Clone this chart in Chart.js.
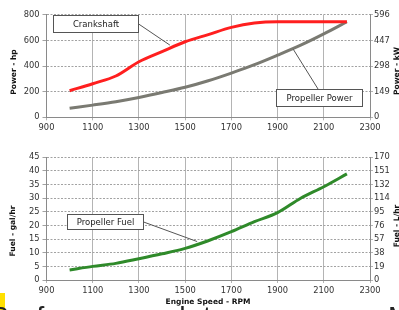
<!DOCTYPE html>
<html lang="en">
<head>
    <meta charset="UTF-8">
    <title>Engine Power and Fuel</title>
    <script src="https://cdn.jsdelivr.net/npm/chart.js@4"></script>
    <style>
        html, body { margin: 0; padding: 0; background: #fff; overflow: hidden; }
        body { width: 399px; height: 310px; position: relative; }
        #powerChart { position: absolute; left: 0; top: 0; }
        #fuelChart { position: absolute; left: 0; top: 140px; }
        .mark { position: absolute; left: 0; top: 293px; width: 5px; height: 17px; background: #ffe000; }
        .page-text { position: absolute; top: 303px; font-family: "Liberation Sans", sans-serif; font-size: 28px; line-height: 28px; letter-spacing: 1px; color: #222; white-space: nowrap; }
    </style>
</head>
<body>
    <canvas id="powerChart" width="399" height="140"></canvas>
    <canvas id="fuelChart" width="399" height="170"></canvas>
    <div class="mark"></div>
    <div class="page-text" style="left:-10px">Performance data</div>
    <div class="page-text" style="left:388px">M</div>

    <script>
        // engine speed, rpm
        const rpm = [1000, 1100, 1200, 1300, 1400, 1500, 1600, 1700, 1800, 1900, 2000, 2100, 2200];
        // power, hp
        const crankshaftHp = [207, 262, 322, 433, 512, 589, 645, 701, 735, 745, 745, 745, 745];
        const propellerHp = [70, 95, 122, 155, 193, 234, 285, 345, 410, 484, 562, 650, 745];
        // fuel, gal/hr
        const propellerFuel = [3.7, 5.0, 6.1, 7.8, 9.6, 11.6, 14.4, 17.7, 21.4, 24.7, 30.0, 34.2, 38.9];

        // secondary axis labels (kW and L/hr)
        const kwLabels = ['0', '149', '298', '447', '596'];
        const literLabels = ['0', '19', '38', '57', '76', '95', '114', '132', '151', '170'];

        const FONT = 'DejaVu Sans';
        const tickFont = { family: FONT, size: 8.3 };
        const gridColor = '#b4b4b4';
        const dashColor = '#a2a2a2';
        const axisColor = '#8a8a8a';

        function points(values) {
            return rpm.map((r, i) => ({ x: r, y: values[i] }));
        }

        function scales(yMax, yStep, rightLabels, xHeight) {
            return {
                x: {
                    type: 'linear', min: 900, max: 2300,
                    ticks: { stepSize: 200, font: tickFont, color: '#333', padding: 3, maxRotation: 0, autoSkip: false, callback: v => String(v) },
                    grid: { color: gridColor, tickLength: 3 },
                    border: { color: axisColor },
                    afterFit: s => { s.height = xHeight; }
                },
                y: {
                    position: 'left', min: 0, max: yMax,
                    ticks: { stepSize: yStep, font: tickFont, color: '#333', padding: 3, callback: v => String(v) },
                    grid: { color: dashColor, tickLength: 4 },
                    border: { color: axisColor, dash: [2, 1.5] },
                    afterFit: s => { s.width = 46.5; }
                },
                y2: {
                    position: 'right', min: 0, max: yMax,
                    ticks: { stepSize: yStep, font: tickFont, color: '#333', padding: 1, callback: (v, i) => rightLabels[i] },
                    grid: { drawOnChartArea: false, color: gridColor, tickLength: 3 },
                    border: { color: axisColor },
                    afterFit: s => { s.width = 29; }
                }
            };
        }

        // callout boxes and axis titles
        function extrasPlugin(notes, titles) {
            return {
                id: 'extras',
                afterDatasetsDraw(chart) {
                    const { ctx, scales: { x, y } } = chart;
                    ctx.save();
                    ctx.lineWidth = 1;
                    ctx.strokeStyle = '#555';
                    notes.forEach(n => {
                        ctx.beginPath();
                        ctx.moveTo(x.getPixelForValue(n.from[0]), y.getPixelForValue(n.from[1]));
                        ctx.lineTo(x.getPixelForValue(n.tip[0]), y.getPixelForValue(n.tip[1]));
                        ctx.stroke();

                        const x0 = Math.round(x.getPixelForValue(n.box[0])) + 0.5;
                        const y0 = Math.round(y.getPixelForValue(n.box[1])) + 0.5;
                        const x1 = Math.round(x.getPixelForValue(n.box[2])) + 0.5;
                        const y1 = Math.round(y.getPixelForValue(n.box[3])) + 0.5;
                        ctx.fillStyle = '#fff';
                        ctx.fillRect(x0, y0, x1 - x0, y1 - y0);
                        ctx.strokeRect(x0, y0, x1 - x0, y1 - y0);

                        ctx.fillStyle = '#222';
                        ctx.font = '8.5px "' + FONT + '"';
                        ctx.textAlign = 'center';
                        ctx.textBaseline = 'middle';
                        ctx.fillText(n.text, (x0 + x1) / 2, (y0 + y1) / 2 + 0.5);
                    });
                    ctx.restore();
                },
                afterDraw(chart) {
                    const ctx = chart.ctx;
                    ctx.save();
                    ctx.fillStyle = '#111';
                    ctx.font = 'bold 7.5px "' + FONT + '"';
                    ctx.textAlign = 'center';
                    ctx.textBaseline = 'middle';
                    titles.forEach(t => {
                        ctx.save();
                        ctx.translate(t.cx, t.cy);
                        if (t.vertical) ctx.rotate(-Math.PI / 2);
                        ctx.fillText(t.text, 0, 0);
                        ctx.restore();
                    });
                    ctx.restore();
                }
            };
        }

        const lineStyle = { borderWidth: 3, pointRadius: 0, cubicInterpolationMode: 'monotone', fill: false };

        new Chart(document.getElementById('powerChart'), {
            type: 'line',
            data: {
                datasets: [
                    { label: 'Crankshaft', data: points(crankshaftHp), borderColor: '#ff1f1f', ...lineStyle },
                    { label: 'Propeller Power', data: points(propellerHp), borderColor: '#7a7a72', ...lineStyle }
                ]
            },
            options: {
                responsive: false,
                animation: false,
                devicePixelRatio: 1,
                layout: { padding: { top: 14.7, bottom: 0, left: 0, right: 0 } },
                plugins: { legend: { display: false }, tooltip: { enabled: false } },
                scales: scales(800, 200, kwLabels, 22.7)
            },
            plugins: [extrasPlugin(
                [
                    { text: 'Crankshaft', box: [927, 798, 1295, 667], from: [1295, 732], tip: [1434, 563] },
                    { text: 'Propeller Power', box: [1893, 218, 2267, 88], from: [2076, 218], tip: [1968, 530] }
                ],
                [
                    { text: 'Power - hp', cx: 14.5, cy: 72, vertical: true },
                    { text: 'Power - kW', cx: 397.5, cy: 71, vertical: true }
                ]
            )]
        });

        new Chart(document.getElementById('fuelChart'), {
            type: 'line',
            data: {
                datasets: [
                    { label: 'Propeller Fuel', data: points(propellerFuel), borderColor: '#2f8a2a', ...lineStyle }
                ]
            },
            options: {
                responsive: false,
                animation: false,
                devicePixelRatio: 1,
                layout: { padding: { top: 17.3, bottom: 0, left: 0, right: 0 } },
                plugins: { legend: { display: false }, tooltip: { enabled: false } },
                scales: scales(45, 5, literLabels, 30)
            },
            plugins: [extrasPlugin(
                [
                    { text: 'Propeller Fuel', box: [987, 24.2, 1316, 18.6], from: [1316, 21.4], tip: [1552, 14.1] }
                ],
                [
                    { text: 'Fuel - gal/hr', cx: 13.5, cy: 91, vertical: true },
                    { text: 'Fuel - L/hr', cx: 397.5, cy: 86, vertical: true },
                    { text: 'Engine Speed - RPM', cx: 208, cy: 162.5, vertical: false }
                ]
            )]
        });
    </script>
</body>
</html>
